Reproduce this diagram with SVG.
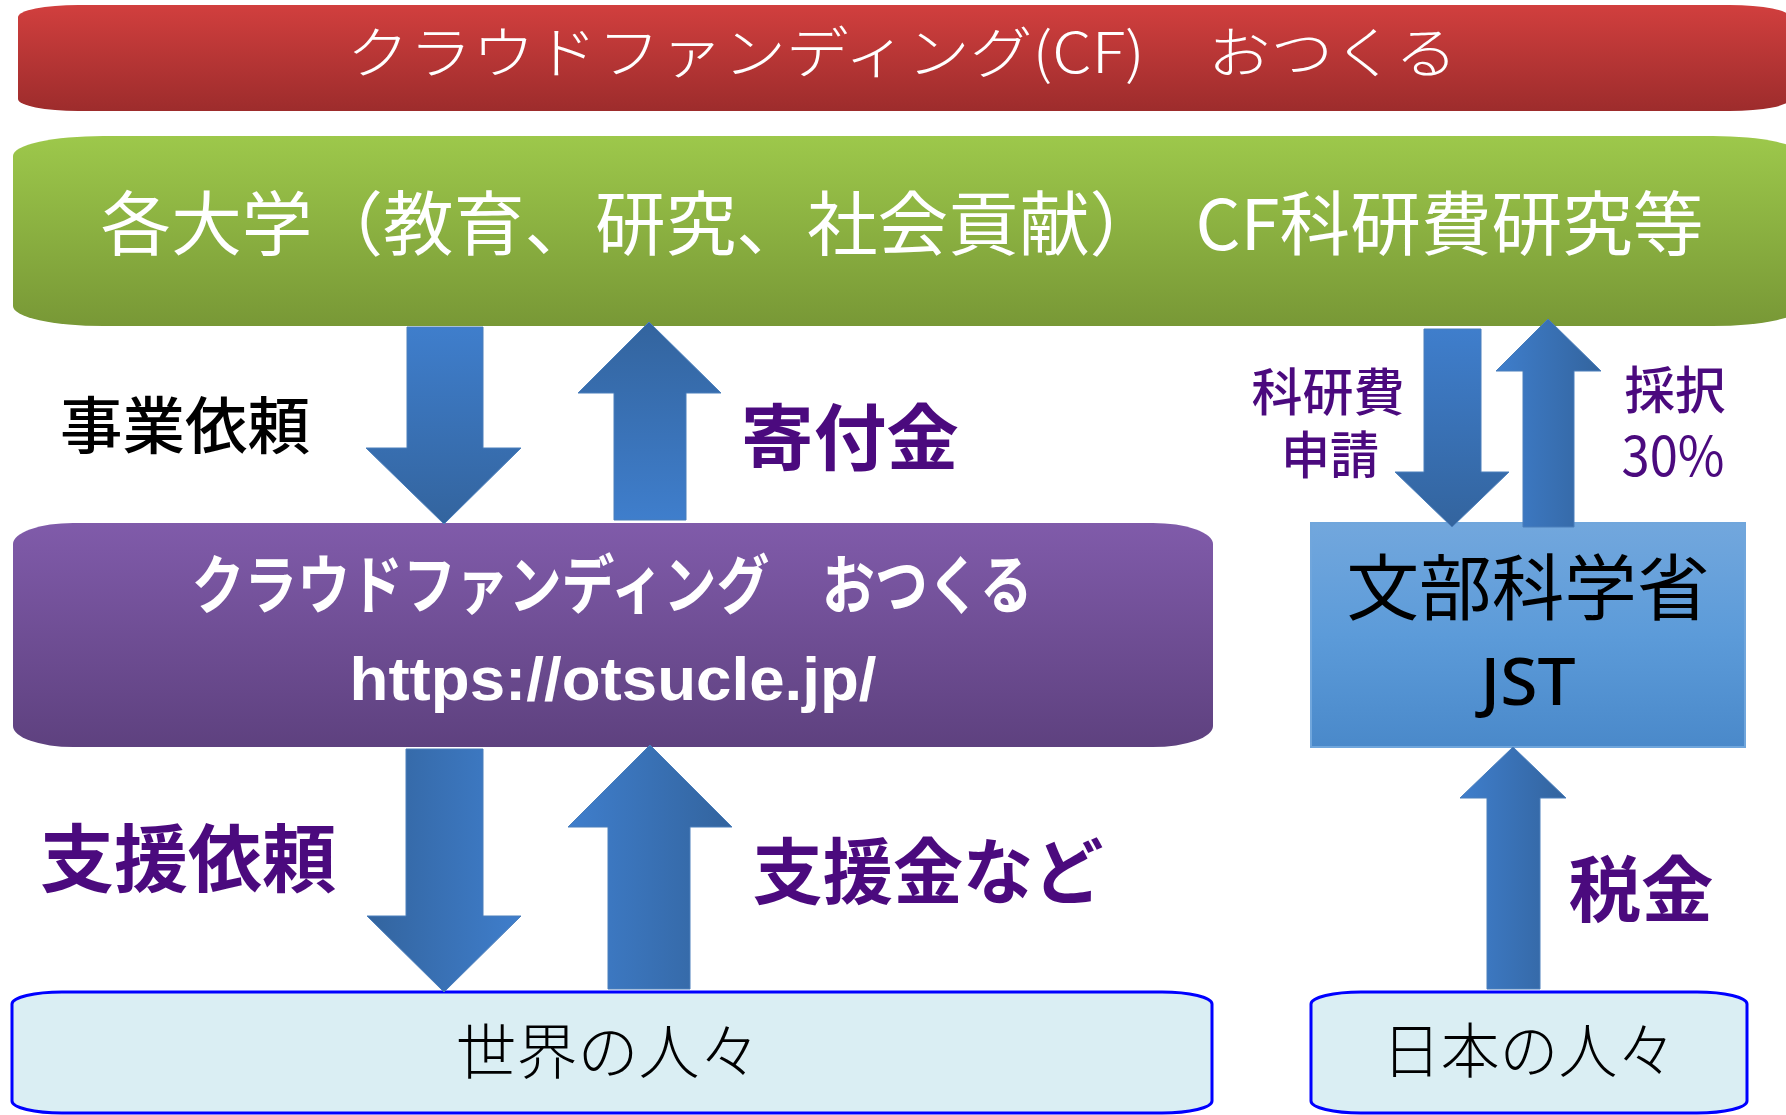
<svg xmlns="http://www.w3.org/2000/svg" width="1786" height="1115" viewBox="0 0 1786 1115">
<defs>
<linearGradient id="gRed" x1="0" y1="0" x2="0" y2="1"><stop offset="0" stop-color="#D13F3E"/><stop offset="1" stop-color="#9D2C2C"/></linearGradient>
<linearGradient id="gGreen" x1="0" y1="0" x2="0" y2="1"><stop offset="0" stop-color="#9DC84B"/><stop offset="1" stop-color="#789836"/></linearGradient>
<linearGradient id="gPurple" x1="0" y1="0" x2="0" y2="1"><stop offset="0" stop-color="#805BAA"/><stop offset="1" stop-color="#5E417F"/></linearGradient>
<linearGradient id="gBlueBox" x1="0" y1="0" x2="0" y2="1"><stop offset="0" stop-color="#72A7DD"/><stop offset="0.5" stop-color="#5C9BD9"/><stop offset="1" stop-color="#4A89CA"/></linearGradient>
<linearGradient id="gDown" x1="0" y1="0" x2="0" y2="1"><stop offset="0" stop-color="#3F7ECC"/><stop offset="1" stop-color="#33649E"/></linearGradient>
<linearGradient id="gUp" x1="0" y1="0" x2="0" y2="1"><stop offset="0" stop-color="#33649E"/><stop offset="1" stop-color="#3F7ECC"/></linearGradient>
<linearGradient id="gLR" x1="0" y1="0" x2="1" y2="0"><stop offset="0" stop-color="#3F7ECC"/><stop offset="1" stop-color="#33649E"/></linearGradient>
<linearGradient id="gRL" x1="0" y1="0" x2="1" y2="0"><stop offset="0" stop-color="#33649E"/><stop offset="1" stop-color="#3F7ECC"/></linearGradient>
</defs>
<style>
.jp{font-family:"Noto Sans CJK JP","Noto Sans",sans-serif;}
.wt{fill:#FFFFFF;}
.lbl{fill:#4B0A7E;font-weight:700;}
.arrow{stroke:#4A7EBB;stroke-width:1;}
.ppl{fill:#DAEEF3;stroke:#0000FF;stroke-width:3;}
</style>
<rect width="1786" height="1115" fill="#FFFFFF"/>

<g id="node-cf-top">
<rect x="18" y="5" width="1772" height="106" rx="60" ry="12" fill="url(#gRed)"/>
<text class="jp wt" x="902" y="48" font-size="56" font-weight="300" text-anchor="middle" dominant-baseline="central" textLength="1111" lengthAdjust="spacingAndGlyphs">クラウドファンディング(CF)　おつくる</text>
</g>

<g id="node-university">
<rect x="13" y="136" width="1790" height="190" rx="90" ry="20" fill="url(#gGreen)"/>
<text class="jp wt" x="902" y="219" font-size="70" font-weight="400" text-anchor="middle" dominant-baseline="central" textLength="1603" lengthAdjust="spacingAndGlyphs">各大学（教育、研究、社会貢献）　CF科研費研究等</text>
</g>

<g id="node-otsucle">
<rect x="13" y="523" width="1200" height="224" rx="60" ry="21" fill="url(#gPurple)"/>
<text class="jp wt" x="612" y="580" font-size="64" font-weight="700" text-anchor="middle" dominant-baseline="central" textLength="841" lengthAdjust="spacingAndGlyphs">クラウドファンディング　おつくる</text>
<text class="wt" x="613" y="700" font-family="'Liberation Sans',Arial,sans-serif" font-size="62" font-weight="700" text-anchor="middle" textLength="527" lengthAdjust="spacingAndGlyphs">https://otsucle.jp/</text>
</g>

<g id="node-mext">
<rect x="1311" y="523" width="434" height="224" fill="url(#gBlueBox)" stroke="#70A6DC" stroke-width="2"/>
<text class="jp" x="1528" y="582" font-size="72" font-weight="400" fill="#000000" text-anchor="middle" dominant-baseline="central" textLength="363" lengthAdjust="spacingAndGlyphs">文部科学省</text>
<text x="1528" y="705" font-family="'Noto Sans',sans-serif" font-size="66" font-weight="500" fill="#000000" text-anchor="middle" textLength="95" lengthAdjust="spacingAndGlyphs">JST</text>
</g>

<g id="node-world">
<rect class="ppl" x="12" y="992" width="1200" height="121" rx="50" ry="12"/>
<text class="jp" x="608" y="1047" font-size="60" font-weight="300" fill="#000000" text-anchor="middle" dominant-baseline="central" textLength="305" lengthAdjust="spacingAndGlyphs">世界の人々</text>
</g>

<g id="node-japan">
<rect class="ppl" x="1311" y="992" width="436" height="121" rx="50" ry="12"/>
<text class="jp" x="1529" y="1046" font-size="60" font-weight="300" fill="#000000" text-anchor="middle" dominant-baseline="central" textLength="294" lengthAdjust="spacingAndGlyphs">日本の人々</text>
</g>

<g id="connectors">
<g id="c-jigyo">
<polygon class="arrow" points="407,327 483,327 483,448 521,448 444,524 366,448 407,448" fill="url(#gDown)"/>
<text class="jp" x="185" y="422" font-size="62" font-weight="500" fill="#000000" text-anchor="middle" dominant-baseline="central" textLength="250" lengthAdjust="spacingAndGlyphs">事業依頼</text>
</g>
<g id="c-kifu">
<polygon class="arrow" points="649,322 721,393 686,393 686,520 614,520 614,393 578,393" fill="url(#gUp)"/>
<text class="jp lbl" x="850" y="432" font-size="72" text-anchor="middle" dominant-baseline="central" textLength="218" lengthAdjust="spacingAndGlyphs">寄付金</text>
</g>
<g id="c-kaken">
<polygon class="arrow" points="1424,329 1481,329 1481,472 1509,472 1452,527 1395,472 1424,472" fill="url(#gDown)"/>
<text class="jp" font-size="51" font-weight="500" fill="#4B0A7E" text-anchor="middle" dominant-baseline="central"><tspan x="1328" y="389" textLength="153" lengthAdjust="spacingAndGlyphs">科研費</tspan><tspan x="1330" y="452" textLength="98" lengthAdjust="spacingAndGlyphs">申請</tspan></text>
</g>
<g id="c-saitaku">
<polygon class="arrow" points="1548,319 1601,371 1574,371 1574,527 1523,527 1523,371 1496,371" fill="url(#gLR)"/>
<text class="jp" font-size="51" font-weight="500" fill="#4B0A7E" text-anchor="middle"><tspan x="1675" y="409" textLength="101" lengthAdjust="spacingAndGlyphs">採択</tspan><tspan x="1673" y="476" font-size="55" font-weight="400" textLength="103" lengthAdjust="spacingAndGlyphs">30%</tspan></text>
</g>
<g id="c-shien">
<polygon class="arrow" points="406,749 483,749 483,916 521,916 444,992 367,916 406,916" fill="url(#gRL)"/>
<text class="jp lbl" x="188" y="853" font-size="74" text-anchor="middle" dominant-baseline="central" textLength="296" lengthAdjust="spacingAndGlyphs">支援依頼</text>
</g>
<g id="c-shienkin">
<polygon class="arrow" points="650,745 732,827 690,827 690,989 608,989 608,827 568,827" fill="url(#gLR)"/>
<text class="jp lbl" x="928" y="866" font-size="72" text-anchor="middle" dominant-baseline="central" textLength="351" lengthAdjust="spacingAndGlyphs">支援金など</text>
</g>
<g id="c-zeikin">
<polygon class="arrow" points="1513,747 1566,798 1540,798 1540,989 1487,989 1487,798 1460,798" fill="url(#gLR)"/>
<text class="jp lbl" x="1641" y="884" font-size="72" text-anchor="middle" dominant-baseline="central" textLength="145" lengthAdjust="spacingAndGlyphs">税金</text>
</g>
</g>
</svg>
